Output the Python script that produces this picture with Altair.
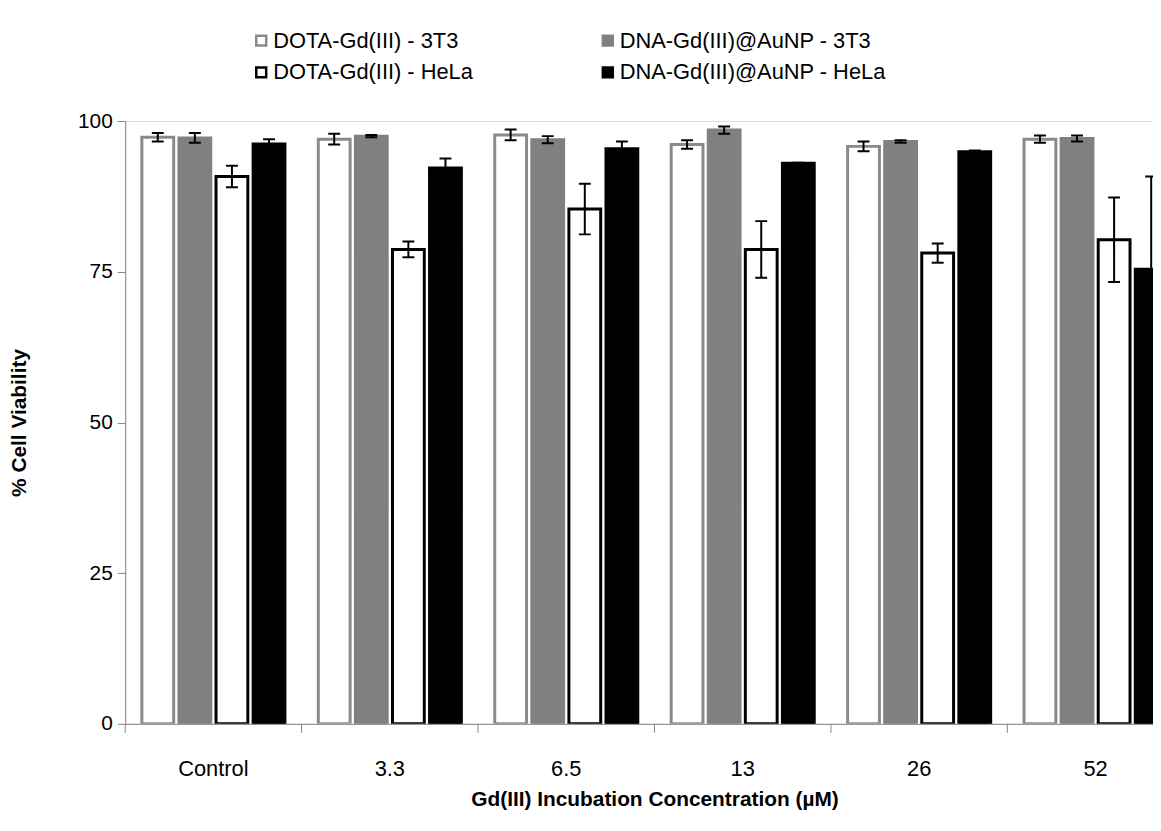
import altair as alt
import pandas as pd

categories = ["Control", "3.3", "6.5", "13", "26", "52"]
series = ["DOTA-Gd(III) - 3T3", "DNA-Gd(III)@AuNP - 3T3",
          "DOTA-Gd(III) - HeLa", "DNA-Gd(III)@AuNP - HeLa"]

dota_3t3 = [97.3, 97.0, 97.7, 96.1, 95.8, 97.0]
dota_3t3_err = [0.7, 0.9, 0.9, 0.7, 0.8, 0.6]
dna_3t3 = [97.2, 97.5, 96.9, 98.5, 96.6, 97.1]
dna_3t3_err = [0.8, 0.2, 0.6, 0.6, 0.2, 0.5]
dota_hela = [90.8, 78.7, 85.4, 78.7, 78.1, 80.3]
dota_hela_err = [1.8, 1.3, 4.2, 4.7, 1.6, 7.0]
dna_hela = [96.2, 92.2, 95.4, 93.0, 94.9, 75.4]
dna_hela_err = [0.8, 1.6, 1.2, 0.1, 0.2, 15.4]

fills = ["#ffffff", "#808080", "#ffffff", "#000000"]
strokes = ["#8a8a8a", "#808080", "#000000", "#000000"]

# legend order (column-major grid): col 1 = DOTA entries, col 2 = DNA entries
legend_order = [0, 2, 1, 3]
leg_domain = [series[i] for i in legend_order]
leg_fills = [fills[i] for i in legend_order]
leg_strokes = [strokes[i] for i in legend_order]

rows = []
for s, vals, errs in zip(series,
                         [dota_3t3, dna_3t3, dota_hela, dna_hela],
                         [dota_3t3_err, dna_3t3_err, dota_hela_err, dna_hela_err]):
    for c, v, e in zip(categories, vals, errs):
        rows.append({"cat": c, "series": s, "value": v, "lo": v - e, "hi": v + e})
df = pd.DataFrame(rows)
cat_df = pd.DataFrame({"cat": categories})

FONT = "Liberation Sans"
W = 1035
H = 607

xscale = alt.Scale(domain=categories, range=[0, 1066], paddingInner=0, paddingOuter=0)
xoff = alt.XOffset("series:N", sort=series,
                   scale=alt.Scale(domain=series, paddingInner=0.142, paddingOuter=0.45))
yscale = alt.Scale(domain=[0, 100], nice=False)

leg = alt.Legend(orient="none", legendX=126, legendY=-92, columns=2,
                 columnPadding=124, rowPadding=10, symbolType="square",
                 symbolSize=100, symbolStrokeWidth=2.5, labelFont=FONT,
                 labelFontSize=22, labelColor="#000000", labelOffset=1,
                 labelLimit=400)

base = alt.Chart(df)

bars = base.mark_bar(strokeWidth=3, clip=True).encode(
    x=alt.X("cat:N", sort=categories, scale=xscale,
            axis=alt.Axis(title="Gd(III) Incubation Concentration (µM)",
                          labelAngle=0, ticks=False, tickSize=0,
                          labelPadding=35, titlePadding=9,
                          domainColor="#868686", labelFont=FONT,
                          labelFontSize=22, labelColor="#000000",
                          titleFont=FONT, titleFontSize=21,
                          titleFontWeight="bold", titleColor="#000000")),
    xOffset=xoff,
    y=alt.Y("value:Q", scale=yscale,
            axis=alt.Axis(title="% Cell Viability", values=[0, 25, 50, 75, 100],
                          grid=False, tickSize=8, tickColor="#868686",
                          domainColor="#868686", labelFont=FONT,
                          labelFontSize=21, labelColor="#000000",
                          labelPadding=5, titleFont=FONT, titleFontSize=21,
                          titleFontWeight="bold", titleColor="#000000",
                          titleX=-106, titleY=H / 2, titleAngle=270,
                          titleAlign="center", titleBaseline="middle")),
    fill=alt.Fill("series:N", title=None,
                  scale=alt.Scale(domain=leg_domain, range=leg_fills), legend=leg),
    stroke=alt.Stroke("series:N", title=None,
                      scale=alt.Scale(domain=leg_domain, range=leg_strokes), legend=leg),
)

err = base.mark_rule(color="#000000", strokeWidth=2, clip=True).encode(
    x=alt.X("cat:N", sort=categories, scale=xscale),
    xOffset=xoff,
    y=alt.Y("lo:Q", scale=yscale),
    y2="hi:Q",
)
caps_hi = base.mark_tick(color="#000000", thickness=2, size=12, clip=True,
                         opacity=1).encode(
    x=alt.X("cat:N", sort=categories, scale=xscale),
    xOffset=xoff,
    y=alt.Y("hi:Q", scale=yscale),
)
caps_lo = base.mark_tick(color="#000000", thickness=2, size=12, clip=True,
                         opacity=1).encode(
    x=alt.X("cat:N", sort=categories, scale=xscale),
    xOffset=xoff,
    y=alt.Y("lo:Q", scale=yscale),
)

xticks = alt.Chart(cat_df).mark_rule(color="#868686", strokeWidth=1).encode(
    x=alt.X("cat:N", sort=categories, scale=xscale, bandPosition=0),
    y=alt.value(H),
    y2=alt.value(H + 9),
)

chart = alt.layer(bars, err, caps_hi, caps_lo, xticks).properties(
    width=W, height=H,
    autosize=alt.AutoSizeParams(type="none"),
    padding={"left": 118, "top": 111, "right": 0, "bottom": 97},
).configure_view(strokeWidth=0).configure(background="#ffffff")

chart.save("out.html", embed_options={"renderer": "svg", "actions": False})
